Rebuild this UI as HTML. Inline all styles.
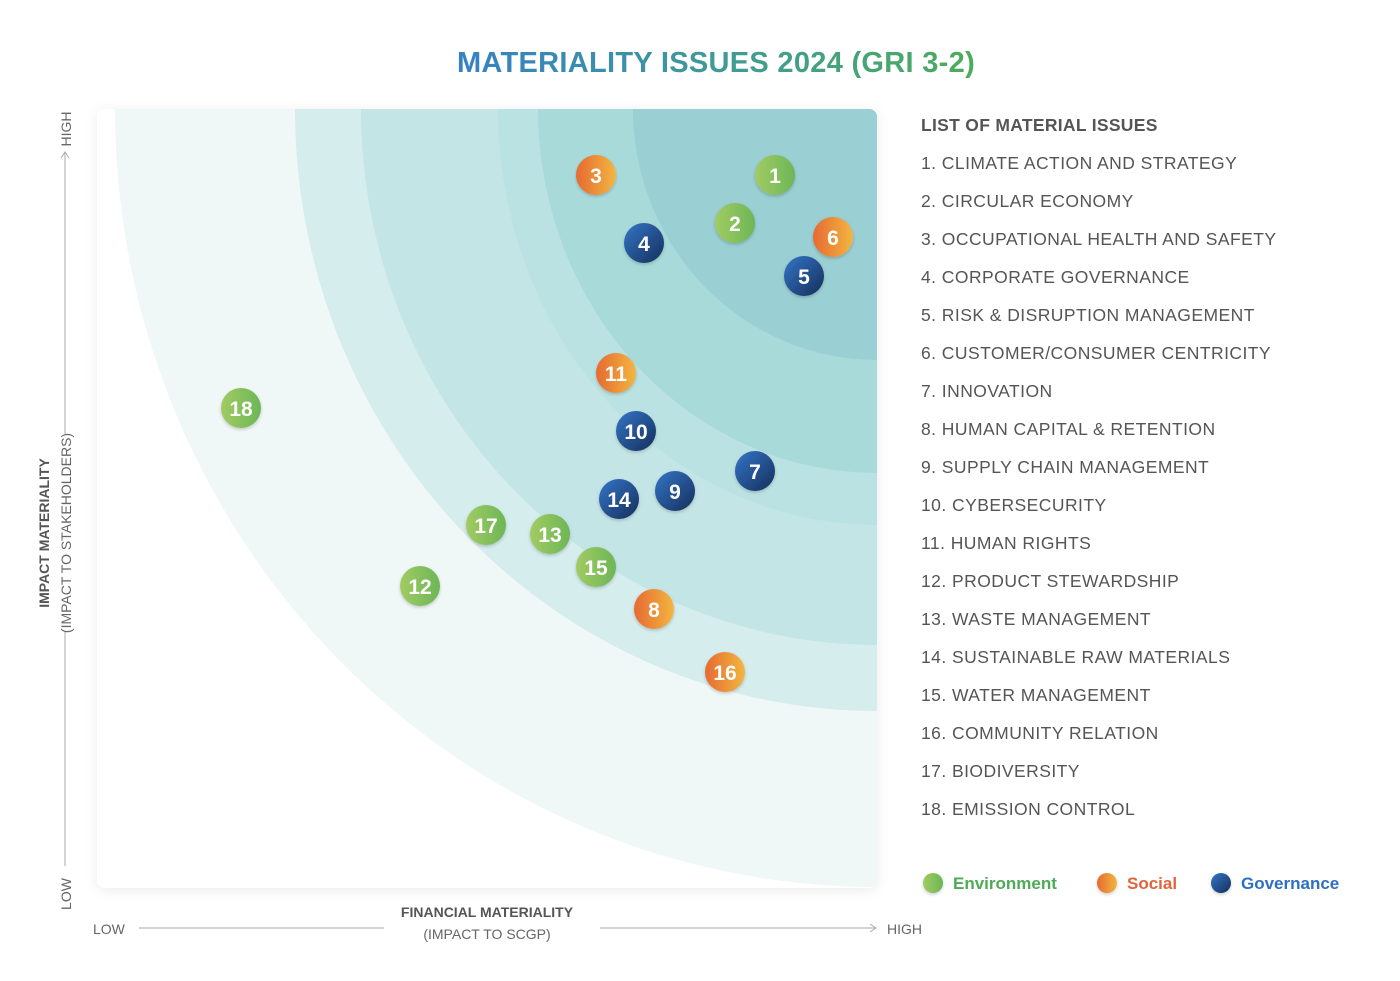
<!DOCTYPE html>
<html><head><meta charset="utf-8"><style>
html,body{margin:0;padding:0;background:#fff;}
svg{display:block;font-family:"Liberation Sans",sans-serif;}
</style></head><body>
<svg width="1400" height="981" viewBox="0 0 1400 981" xmlns="http://www.w3.org/2000/svg">
<defs>
<linearGradient id="tg" x1="0" x2="1"><stop offset="0" stop-color="#3680c4"/><stop offset="0.5" stop-color="#3f9a98"/><stop offset="1" stop-color="#4cac5a"/></linearGradient>
<linearGradient id="gE" x1="0" x2="1"><stop offset="0" stop-color="#a2cb62"/><stop offset="1" stop-color="#6cb657"/></linearGradient>
<linearGradient id="gS" x1="0" x2="1"><stop offset="0" stop-color="#e66a32"/><stop offset="1" stop-color="#f2b640"/></linearGradient>
<linearGradient id="gG" x1="0" y1="0" x2="1" y2="1"><stop offset="0" stop-color="#3476c8"/><stop offset="1" stop-color="#162e5a"/></linearGradient>
<clipPath id="pc"><rect x="97" y="109" width="780" height="779" rx="8"/></clipPath>
<filter id="sh" x="-10%" y="-10%" width="120%" height="120%"><feDropShadow dx="0" dy="2" stdDeviation="6" flood-color="#000" flood-opacity="0.08"/></filter>
<filter id="bs" x="-30%" y="-30%" width="160%" height="160%"><feDropShadow dx="0" dy="1.5" stdDeviation="1.5" flood-color="#000" flood-opacity="0.2"/></filter>
</defs>
<text x="716" y="72" text-anchor="middle" font-size="29" font-weight="bold" fill="url(#tg)" letter-spacing="0.3">MATERIALITY ISSUES 2024 (GRI 3-2)</text>
<rect x="97" y="109" width="780" height="779" rx="8" fill="#fff" filter="url(#sh)"/>
<g clip-path="url(#pc)">
<ellipse cx="877" cy="109" rx="762" ry="778" fill="#eff8f7"/>
<ellipse cx="877" cy="109" rx="582" ry="602" fill="#d5eded"/>
<ellipse cx="877" cy="109" rx="516" ry="536" fill="#c3e5e5"/>
<ellipse cx="877" cy="109" rx="379" ry="416" fill="#bbe2e2"/>
<ellipse cx="877" cy="109" rx="339" ry="364" fill="#a9dada"/>
<ellipse cx="877" cy="109" rx="244" ry="251" fill="#9acfd3"/>
</g>
<g font-size="21" font-weight="bold" fill="#fff" text-anchor="middle">
<g filter="url(#bs)">
<circle cx="775" cy="175" r="20" fill="url(#gE)"/>
<circle cx="735" cy="223" r="20" fill="url(#gE)"/>
<circle cx="596" cy="175" r="20" fill="url(#gS)"/>
<circle cx="644" cy="243" r="20" fill="url(#gG)"/>
<circle cx="804" cy="276" r="20" fill="url(#gG)"/>
<circle cx="833" cy="237" r="20" fill="url(#gS)"/>
<circle cx="755" cy="471" r="20" fill="url(#gG)"/>
<circle cx="654" cy="609" r="20" fill="url(#gS)"/>
<circle cx="675" cy="491" r="20" fill="url(#gG)"/>
<circle cx="636" cy="431" r="20" fill="url(#gG)"/>
<circle cx="616" cy="373" r="20" fill="url(#gS)"/>
<circle cx="420" cy="586" r="20" fill="url(#gE)"/>
<circle cx="550" cy="534" r="20" fill="url(#gE)"/>
<circle cx="619" cy="499" r="20" fill="url(#gG)"/>
<circle cx="596" cy="567" r="20" fill="url(#gE)"/>
<circle cx="725" cy="672" r="20" fill="url(#gS)"/>
<circle cx="486" cy="525" r="20" fill="url(#gE)"/>
<circle cx="241" cy="408" r="20" fill="url(#gE)"/>
</g>
<text x="775" y="183">1</text><text x="735" y="231">2</text><text x="596" y="183">3</text>
<text x="644" y="251">4</text><text x="804" y="284">5</text><text x="833" y="245">6</text>
<text x="755" y="479">7</text><text x="654" y="617">8</text><text x="675" y="499">9</text>
<text x="636" y="439">10</text><text x="616" y="381">11</text><text x="420" y="594">12</text>
<text x="550" y="542">13</text><text x="619" y="507">14</text><text x="596" y="575">15</text>
<text x="725" y="680">16</text><text x="486" y="533">17</text><text x="241" y="416">18</text>
</g>
<g stroke="#aaa" stroke-width="1" fill="none">
<line x1="65" y1="152" x2="65" y2="866"/>
<polyline points="61,158 65,152 69,158"/>
<line x1="139" y1="928" x2="384" y2="928"/>
<line x1="600" y1="928" x2="876" y2="928"/>
<polyline points="870,924 876,928 870,932"/>
</g>
<g fill="#666" font-size="14">
<text transform="translate(71,129) rotate(-90)" text-anchor="middle">HIGH</text>
<text transform="translate(71,894) rotate(-90)" text-anchor="middle">LOW</text>
<text transform="translate(49,533) rotate(-90)" text-anchor="middle" font-weight="bold" fill="#555" font-size="14">IMPACT MATERIALITY</text>
<rect x="60" y="434" width="12" height="198" fill="#fff"/>
<text transform="translate(71,533) rotate(-90)" text-anchor="middle" font-size="14">(IMPACT TO STAKEHOLDERS)</text>
<text x="93" y="934">LOW</text>
<text x="887" y="934">HIGH</text>
<text x="487" y="917" text-anchor="middle" font-weight="bold" fill="#555" font-size="14">FINANCIAL MATERIALITY</text>
<text x="487" y="939" text-anchor="middle" font-size="14">(IMPACT TO SCGP)</text>
</g>
<g fill="#555" font-size="17.5" letter-spacing="0.45">
<text x="921" y="131" font-weight="bold" letter-spacing="0.3">LIST OF MATERIAL ISSUES</text>
<text x="921" y="169">1. CLIMATE ACTION AND STRATEGY</text>
<text x="921" y="207">2. CIRCULAR ECONOMY</text>
<text x="921" y="245">3. OCCUPATIONAL HEALTH AND SAFETY</text>
<text x="921" y="283">4. CORPORATE GOVERNANCE</text>
<text x="921" y="321">5. RISK &amp; DISRUPTION MANAGEMENT</text>
<text x="921" y="359">6. CUSTOMER/CONSUMER CENTRICITY</text>
<text x="921" y="397">7. INNOVATION</text>
<text x="921" y="435">8. HUMAN CAPITAL &amp; RETENTION</text>
<text x="921" y="473">9. SUPPLY CHAIN MANAGEMENT</text>
<text x="921" y="511">10. CYBERSECURITY</text>
<text x="921" y="549">11. HUMAN RIGHTS</text>
<text x="921" y="587">12. PRODUCT STEWARDSHIP</text>
<text x="921" y="625">13. WASTE MANAGEMENT</text>
<text x="921" y="663">14. SUSTAINABLE RAW MATERIALS</text>
<text x="921" y="701">15. WATER MANAGEMENT</text>
<text x="921" y="739">16. COMMUNITY RELATION</text>
<text x="921" y="777">17. BIODIVERSITY</text>
<text x="921" y="815">18. EMISSION CONTROL</text>
</g>
<g font-size="17" font-weight="bold">
<circle cx="933" cy="883" r="10" fill="url(#gE)" filter="url(#bs)"/>
<text x="953" y="889" fill="#4cab55">Environment</text>
<circle cx="1107" cy="883" r="10" fill="url(#gS)" filter="url(#bs)"/>
<text x="1127" y="889" fill="#e2643a">Social</text>
<circle cx="1221" cy="883" r="10" fill="url(#gG)" filter="url(#bs)"/>
<text x="1241" y="889" fill="#2f6fc2">Governance</text>
</g>
</svg>
</body></html>
